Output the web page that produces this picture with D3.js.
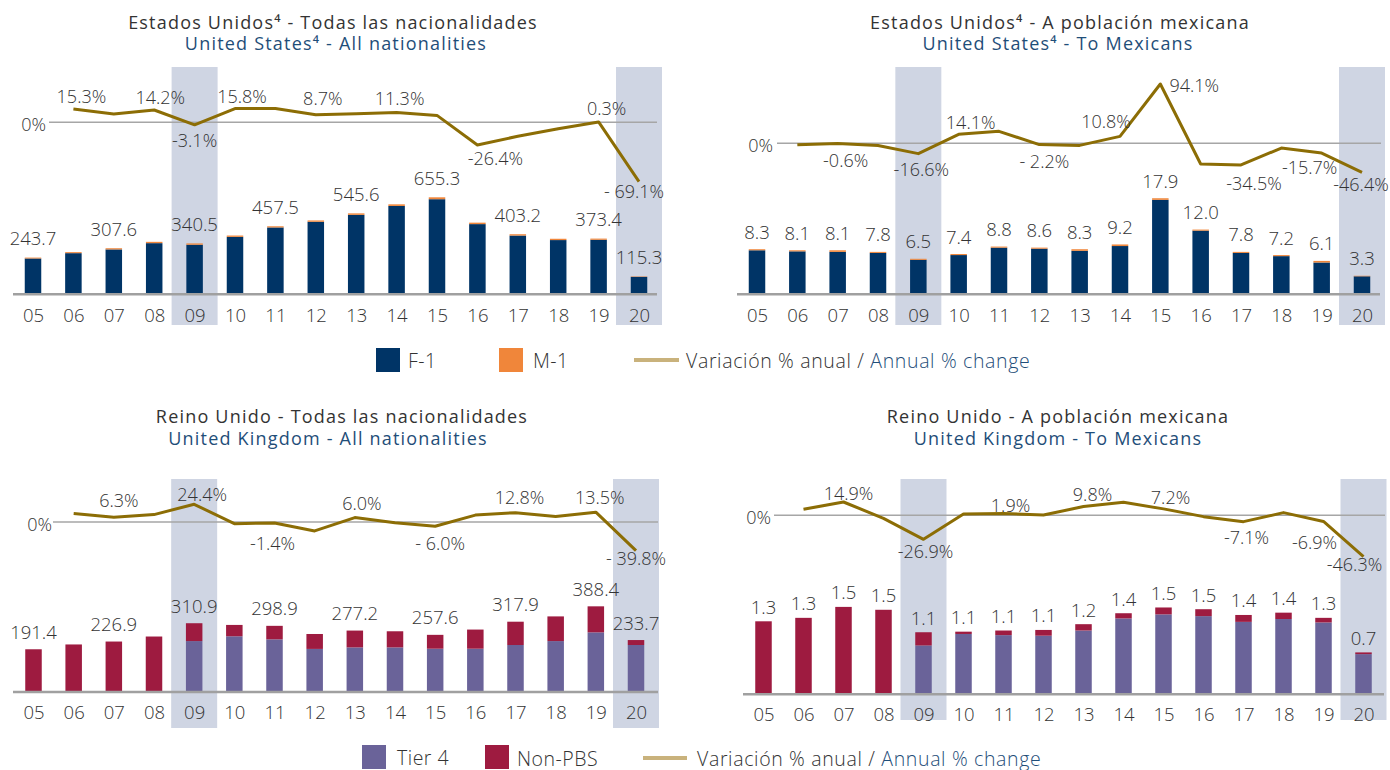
<!DOCTYPE html>
<html><head><meta charset="utf-8">
<script src="https://cdn.jsdelivr.net/npm/d3@7"></script>
<style>
body{margin:0;background:#fff;}
svg text{font-family:"Open Sans",sans-serif;}
</style></head><body>
<svg id="chart" width="1390" height="770"></svg>
<script>
// ---------- DATA ----------
const years = ["05","06","07","08","09","10","11","12","13","14","15","16","17","18","19","20"];
const changeYears = years.slice(1);
const shadedYears = ["09","20"];

// United States - all nationalities (thousands)
const usAllF1 = [237.7,274.0,299.6,342.3,331.5,385.3,449.5,488.3,535.6,596.3,642.3,472.3,394.2,363.3,365.4,112.3];
const usAllM1 = [6,7,8,9,9,9,8,9,10,11,13,10,9,9,8,3];
const usAllBarLabels = ["243.7",null,"307.6",null,"340.5",null,"457.5",null,"545.6",null,"655.3",null,"403.2",null,"373.4","115.3"];
const usAllChange = [15.3,9.5,14.2,-3.1,15.8,16.0,8.7,9.7,11.3,7.9,-26.4,-16.4,-7.7,0.3,-69.1];
const usAllChangeLabels = ["15.3%",null,"14.2%","-3.1%","15.8%",null,"8.7%",null,"11.3%",null,"-26.4%",null,null,"0.3%","- 69.1%"];

// United States - to Mexicans (thousands)
const usMxF1 = [8.1,7.9,7.8,7.6,6.3,7.2,8.6,8.4,8.0,8.9,17.6,11.8,7.6,7.0,5.8,3.2];
const usMxM1 = [0.2,0.2,0.3,0.2,0.2,0.2,0.2,0.2,0.3,0.3,0.3,0.2,0.2,0.2,0.3,0.1];
const usMxBarLabels = ["8.3","8.1","8.1","7.8","6.5","7.4","8.8","8.6","8.3","9.2","17.9","12.0","7.8","7.2","6.1","3.3"];
const usMxChange = [-2.4,-0.6,-3.7,-16.6,14.1,18.9,-2.2,-3.5,10.8,94.1,-33.0,-34.5,-7.7,-15.7,-46.4];
const usMxChangeLabels = [null,"-0.6%",null,"-16.6%","14.1%",null,"- 2.2%",null,"10.8%","94.1%",null,"-34.5%",null,"-15.7%","-46.4%"];

// United Kingdom - all nationalities (thousands)
const ukAllTier4 = [0,0,0,0,229,251,237,193,200,200,194,194,211,229,269,211];
const ukAllNonPBS = [191.4,213.5,226.9,249.9,81.9,52.1,61.9,68.5,77.2,74.0,63.6,87.8,106.9,113.2,119.4,22.7];
const ukAllBarLabels = ["191.4",null,"226.9",null,"310.9",null,"298.9",null,"277.2",null,"257.6",null,"317.9",null,"388.4","233.7"];
const ukAllChange = [11.5,6.3,10.1,24.4,-2.5,-1.4,-12.5,6.0,-1.2,-6.0,9.4,12.8,7.6,13.5,-39.8];
const ukAllChangeLabels = [null,"6.3%",null,"24.4%",null,"-1.4%",null,"6.0%",null,"- 6.0%",null,"12.8%",null,"13.5%","- 39.8%"];

// United Kingdom - to Mexicans (thousands)
const ukMxTier4 = [0,0,0,0,0.83,1.03,1.01,1.00,1.09,1.30,1.37,1.34,1.24,1.29,1.23,0.68];
const ukMxNonPBS = [1.25,1.31,1.50,1.45,0.23,0.04,0.08,0.10,0.11,0.09,0.12,0.12,0.12,0.11,0.08,0.03];
const ukMxBarLabels = ["1.3","1.3","1.5","1.5","1.1","1.1","1.1","1.1","1.2","1.4","1.5","1.5","1.4","1.4","1.3","0.7"];
const ukMxChange = [6.7,14.9,-3.4,-26.9,1.5,1.9,0.3,9.8,14.5,7.2,-1.5,-7.1,3.0,-6.9,-46.3];
const ukMxChangeLabels = [null,"14.9%",null,"-26.9%",null,"1.9%",null,"9.8%",null,"7.2%",null,"-7.1%",null,"-6.9%","-46.3%"];

// ---------- STYLE / LAYOUT ----------
const C = {
  text:"#333333", blue:"#1f4e79", navy:"#003466", orange:"#f0863a",
  purple:"#6a6399", crimson:"#9e1b40", line:"#8c6d05", legendLine:"#c9b27c",
  band:"#cfd5e3", zero:"#a6a6a6", base:"#a0a0a0"
};

const panels = [
  { t1:"Estados Unidos⁴ - Todas las nacionalidades", t2:"United States⁴ - All nationalities", tx1:333, tx2:336, ty1:21.5, ty2:43,
    series:[usAllF1,usAllM1], colors:[C.navy,C.orange], barLabels:usAllBarLabels,
    change:usAllChange, changeLabels:usAllChangeLabels,
    xr:[33,639], barDom:[0,1000], barRange:[293.3,146.8], lineRange:[208.3,36.1],
    zero:[49,657], zeroLabelX:46, baseX:[13,657], bandY:[67,325], tickY:314, barLabDy:-20,
    nudge:{"06":[8,-13],"08":[6,-13],"10":[7,-13],"12":[7,-17],"14":[3,-14],"19":[8,-14],"09":[0,15],"16":[18,13],"20":[-5,9]} },
  { t1:"Estados Unidos⁴ - A población mexicana", t2:"United States⁴ - To Mexicans", tx1:1060, tx2:1058, ty1:21.5, ty2:43,
    series:[usMxF1,usMxM1], colors:[C.navy,C.orange], barLabels:usMxBarLabels,
    change:usMxChange, changeLabels:usMxChangeLabels,
    xr:[757,1362], barDom:[0,20], barRange:[293.3,187.1], lineRange:[206.1,80.3],
    zero:[777,1381], zeroLabelX:773, baseX:[737,1380], bandY:[67,325], tickY:314, barLabDy:-18,
    nudge:{"07":[8,16],"09":[3,15],"10":[12,-12],"12":[5,16],"14":[-14,-15],"15":[34,1],"17":[13,18],"19":[-12,14],"20":[-1,12]} },
  { t1:"Reino Unido - Todas las nacionalidades", t2:"United Kingdom - All nationalities", tx1:342, tx2:328, ty1:415.5, ty2:437.5,
    series:[ukAllTier4,ukAllNonPBS], colors:[C.purple,C.crimson], barLabels:ukAllBarLabels,
    change:ukAllChange, changeLabels:ukAllChangeLabels,
    xr:[33.5,636], barDom:[0,400], barRange:[691,603.8], lineRange:[594.1,449.7],
    zero:[53,658], zeroLabelX:52, baseX:[13,658], bandY:[479,728], tickY:711, barLabDy:-18,
    nudge:{"07":[5,-17],"09":[8,-10],"11":[-2,20],"13":[7,-15],"15":[5,17],"17":[4,-16],"19":[4,-15],"20":[0,7]} },
  { t1:"Reino Unido - A población mexicana", t2:"United Kingdom - To Mexicans", tx1:1058, tx2:1058, ty1:416, ty2:438,
    series:[ukMxTier4,ukMxNonPBS], colors:[C.purple,C.crimson], barLabels:ukMxBarLabels,
    change:ukMxChange, changeLabels:ukMxChangeLabels,
    xr:[763.5,1363.5], barDom:[0,1.5], barRange:[693.3,606.9], lineRange:[604.6,426],
    zero:[774,1385], zeroLabelX:771, baseX:[743,1384], bandY:[479,720], tickY:713, barLabDy:-15,
    nudge:{"07":[5,-9],"09":[2,12],"11":[7,-9],"13":[9,-13],"15":[7,-12],"17":[3,15],"19":[-9,21],"20":[-9,7]} }
];

const svg = d3.select("#chart");
const BAR_W = 16.5;

panels.forEach(p => {
  const g = svg.append("g");
  const x = d3.scalePoint().domain(years).range(p.xr);
  const y = d3.scaleLinear().domain(p.barDom).range(p.barRange);
  const yl = d3.scaleLinear().domain([-100,100]).range(p.lineRange);

  // shaded years
  g.selectAll("rect.band").data(shadedYears).join("rect")
    .attr("x", d => x(d) - 23).attr("width", 46)
    .attr("y", p.bandY[0]).attr("height", p.bandY[1] - p.bandY[0])
    .attr("fill", C.band);

  // stacked bars
  const rows = years.map((yr,i) => ({yr, a:p.series[0][i], b:p.series[1][i]}));
  const stacked = d3.stack().keys(["a","b"])(rows);
  stacked.forEach((layer,li) => {
    g.append("g").selectAll("rect").data(layer).join("rect")
      .attr("x", d => x(d.data.yr) - BAR_W/2).attr("width", BAR_W)
      .attr("y", d => y(d[1])).attr("height", d => Math.max(0, y(d[0]) - y(d[1])))
      .attr("fill", p.colors[li]);
  });

  // baseline
  g.append("line").attr("x1", p.baseX[0]).attr("x2", p.baseX[1])
    .attr("y1", y(0)+1).attr("y2", y(0)+1)
    .attr("stroke", C.base).attr("stroke-width", 2.5);

  // bar value labels
  g.append("g").selectAll("text").data(rows.map((r,i)=>({...r, lab:p.barLabels[i]})).filter(d=>d.lab))
    .join("text")
    .attr("x", d => x(d.yr)).attr("y", d => y(d.a + d.b) + p.barLabDy)
    .attr("text-anchor","middle").attr("dominant-baseline","central")
    .attr("font-size", 18.5).attr("font-weight", 300).attr("fill", C.text)
    .text(d => d.lab);

  // zero line
  g.append("line").attr("x1", p.zero[0]).attr("x2", p.zero[1])
    .attr("y1", yl(0)).attr("y2", yl(0))
    .attr("stroke", C.zero).attr("stroke-width", 1.5);
  g.append("text").attr("x", p.zeroLabelX).attr("y", yl(0)+2)
    .attr("text-anchor","end").attr("dominant-baseline","central")
    .attr("font-size", 18).attr("font-weight", 300).attr("fill", C.text).text("0%");

  // change line
  const pts = changeYears.map((yr,i) => ({yr, v:p.change[i], lab:p.changeLabels[i]}));
  g.append("path").datum(pts)
    .attr("d", d3.line().x(d => x(d.yr)).y(d => yl(d.v)))
    .attr("fill","none").attr("stroke", C.line).attr("stroke-width", 3)
    .attr("stroke-linejoin","round");

  g.append("g").selectAll("text").data(pts.filter(d => d.lab)).join("text")
    .attr("x", d => x(d.yr) + (p.nudge[d.yr] ? p.nudge[d.yr][0] : 0))
    .attr("y", d => yl(d.v) + (p.nudge[d.yr] ? p.nudge[d.yr][1] : (d.v >= 0 ? -13 : 15)))
    .attr("text-anchor","middle").attr("dominant-baseline","central")
    .attr("font-size", 18).attr("font-weight", 300).attr("fill", C.text)
    .text(d => d.lab);

  // x axis tick labels
  const ax = d3.axisBottom(x).tickSize(0).tickPadding(0);
  const axg = g.append("g").attr("transform", `translate(0,${p.tickY})`).call(ax);
  axg.select(".domain").remove();
  axg.selectAll("text").attr("dy", null).attr("dominant-baseline","central")
    .attr("font-size", 18.5).attr("font-weight", 300).attr("fill", C.text)
    .style("font-family", '"Open Sans",sans-serif');

  // titles
  g.append("text").attr("x", p.tx1).attr("y", p.ty1).attr("text-anchor","middle")
    .attr("dominant-baseline","central").attr("font-size", 18).attr("font-weight", 500)
    .attr("letter-spacing", 1.2).attr("fill", C.text).text(p.t1);
  g.append("text").attr("x", p.tx2).attr("y", p.ty2).attr("text-anchor","middle")
    .attr("dominant-baseline","central").attr("font-size", 18).attr("font-weight", 500)
    .attr("letter-spacing", 1.2).attr("fill", C.blue).text(p.t2);
});

// legends
function legend(items, lineX, lineY, textX) {
  const lg = svg.append("g");
  items.forEach(it => {
    lg.append("rect").attr("x", it.x).attr("y", it.y).attr("width", 24).attr("height", 24).attr("fill", it.color);
    lg.append("text").attr("x", it.tx).attr("y", it.ty).attr("dominant-baseline","central")
      .attr("font-size", 19.5).attr("font-weight", 300).attr("letter-spacing", 0.5)
      .attr("fill", C.text).text(it.label);
  });
  lg.append("line").attr("x1", lineX[0]).attr("x2", lineX[1]).attr("y1", lineY).attr("y2", lineY)
    .attr("stroke", C.legendLine).attr("stroke-width", 4);
  const t = lg.append("text").attr("x", textX).attr("y", lineY).attr("dominant-baseline","central")
    .attr("font-size", 19.5).attr("font-weight", 300).attr("letter-spacing", 0.65);
  t.append("tspan").attr("fill", C.text).text("Variación % anual / ");
  t.append("tspan").attr("fill", C.blue).text("Annual % change");
}
legend([
  {x:376, y:348, color:C.navy, label:"F-1", tx:408, ty:360},
  {x:499, y:348, color:C.orange, label:"M-1", tx:533, ty:360}
], [634,679], 360, 686);
legend([
  {x:362, y:745, color:C.purple, label:"Tier 4", tx:397, ty:757},
  {x:485, y:745, color:C.crimson, label:"Non-PBS", tx:517, ty:758}
], [643,687], 758, 697);
</script>
</body></html>
